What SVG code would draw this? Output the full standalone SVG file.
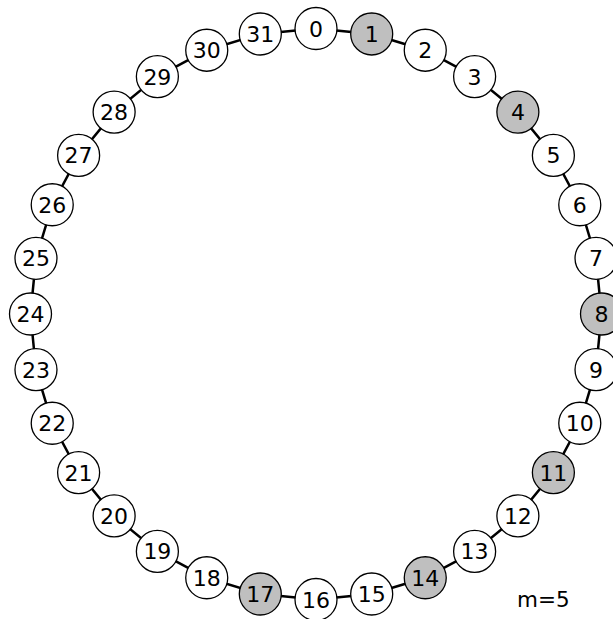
<svg xmlns="http://www.w3.org/2000/svg" width="613" height="619" viewBox="0 0 613 619">
<style>
.n circle{fill:#ffffff;stroke:#000;stroke-width:1.3}
.n.g circle{fill:#bfbfbf}
.n text{font-family:"DejaVu Sans",sans-serif;font-size:22px;text-anchor:middle;fill:#000}
.e{fill:none;stroke:#000;stroke-width:2.5}
.lbl{font-family:"DejaVu Sans",sans-serif;font-size:21.5px;fill:#000}
</style>
<rect width="613" height="619" fill="#fff"/>
<g id="connectors">
<polygon class="e" points="316,28.5 371.7,33.98 425.26,50.23 474.62,76.62 517.88,112.12 553.38,155.38 579.77,204.74 596.02,258.3 601.5,314 596.02,369.7 579.77,423.26 553.38,472.62 517.88,515.88 474.62,551.38 425.26,577.77 371.7,594.02 316,599.5 260.3,594.02 206.74,577.77 157.38,551.38 114.12,515.88 78.62,472.62 52.23,423.26 35.98,369.7 30.5,314 35.98,258.3 52.23,204.74 78.62,155.38 114.12,112.12 157.38,76.62 206.74,50.23 260.3,33.98"/>
</g>
<g id="n0" class="n"><circle cx="316" cy="28.5" r="21"/><text x="316" y="36.5">0</text></g>
<g id="n1" class="n g"><circle cx="371.7" cy="33.98" r="21"/><text x="371.7" y="42">1</text></g>
<g id="n2" class="n"><circle cx="425.26" cy="50.23" r="21"/><text x="425.26" y="58.2">2</text></g>
<g id="n3" class="n"><circle cx="474.62" cy="76.62" r="21"/><text x="474.62" y="84.6">3</text></g>
<g id="n4" class="n g"><circle cx="517.88" cy="112.12" r="21"/><text x="517.88" y="120.1">4</text></g>
<g id="n5" class="n"><circle cx="553.38" cy="155.38" r="21"/><text x="553.38" y="163.4">5</text></g>
<g id="n6" class="n"><circle cx="579.77" cy="204.74" r="21"/><text x="579.77" y="212.7">6</text></g>
<g id="n7" class="n"><circle cx="596.02" cy="258.3" r="21"/><text x="596.02" y="266.3">7</text></g>
<g id="n8" class="n g"><circle cx="601.5" cy="314" r="21"/><text x="601.5" y="322">8</text></g>
<g id="n9" class="n"><circle cx="596.02" cy="369.7" r="21"/><text x="596.02" y="377.7">9</text></g>
<g id="n10" class="n"><circle cx="579.77" cy="423.26" r="21"/><text x="579.77" y="431.3">10</text></g>
<g id="n11" class="n g"><circle cx="553.38" cy="472.62" r="21"/><text x="553.38" y="480.6">11</text></g>
<g id="n12" class="n"><circle cx="517.88" cy="515.88" r="21"/><text x="517.88" y="523.9">12</text></g>
<g id="n13" class="n"><circle cx="474.62" cy="551.38" r="21"/><text x="474.62" y="559.4">13</text></g>
<g id="n14" class="n g"><circle cx="425.26" cy="577.77" r="21"/><text x="425.26" y="585.8">14</text></g>
<g id="n15" class="n"><circle cx="371.7" cy="594.02" r="21"/><text x="371.7" y="602">15</text></g>
<g id="n16" class="n"><circle cx="316" cy="599.5" r="21"/><text x="316" y="607.5">16</text></g>
<g id="n17" class="n g"><circle cx="260.3" cy="594.02" r="21"/><text x="260.3" y="602">17</text></g>
<g id="n18" class="n"><circle cx="206.74" cy="577.77" r="21"/><text x="206.74" y="585.8">18</text></g>
<g id="n19" class="n"><circle cx="157.38" cy="551.38" r="21"/><text x="157.38" y="559.4">19</text></g>
<g id="n20" class="n"><circle cx="114.12" cy="515.88" r="21"/><text x="114.12" y="523.9">20</text></g>
<g id="n21" class="n"><circle cx="78.62" cy="472.62" r="21"/><text x="78.62" y="480.6">21</text></g>
<g id="n22" class="n"><circle cx="52.23" cy="423.26" r="21"/><text x="52.23" y="431.3">22</text></g>
<g id="n23" class="n"><circle cx="35.98" cy="369.7" r="21"/><text x="35.98" y="377.7">23</text></g>
<g id="n24" class="n"><circle cx="30.5" cy="314" r="21"/><text x="30.5" y="322">24</text></g>
<g id="n25" class="n"><circle cx="35.98" cy="258.3" r="21"/><text x="35.98" y="266.3">25</text></g>
<g id="n26" class="n"><circle cx="52.23" cy="204.74" r="21"/><text x="52.23" y="212.7">26</text></g>
<g id="n27" class="n"><circle cx="78.62" cy="155.38" r="21"/><text x="78.62" y="163.4">27</text></g>
<g id="n28" class="n"><circle cx="114.12" cy="112.12" r="21"/><text x="114.12" y="120.1">28</text></g>
<g id="n29" class="n"><circle cx="157.38" cy="76.62" r="21"/><text x="157.38" y="84.6">29</text></g>
<g id="n30" class="n"><circle cx="206.74" cy="50.23" r="21"/><text x="206.74" y="58.2">30</text></g>
<g id="n31" class="n"><circle cx="260.3" cy="33.98" r="21"/><text x="260.3" y="42">31</text></g>
<text class="lbl" x="517" y="607">m=5</text>
</svg>
